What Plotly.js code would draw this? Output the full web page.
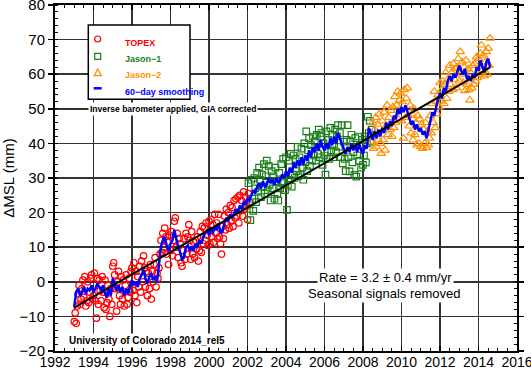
<!DOCTYPE html>
<html>
<head>
<meta charset="utf-8">
<script src="https://cdn.plot.ly/plotly-3.0.1.min.js"></script>
<style>html,body{margin:0;padding:0;background:#fff;}#chart{width:531px;height:370px;}</style>
</head>
<body>
<div id="chart"></div>
<script>
// ---------- data ----------
const topexYears = [
1993,1993.05,1993.1,1993.15,1993.2,1993.25,1993.3,1993.35,1993.4,1993.45,1993.5,1993.55,1993.6,1993.65,1993.7,1993.75,1993.8,1993.85,1993.9,1993.95,
1994,1994.05,1994.1,1994.15,1994.2,1994.25,1994.3,1994.35,1994.4,1994.45,1994.5,1994.55,1994.6,1994.65,1994.7,1994.75,1994.8,1994.85,1994.9,1994.95,
1995,1995.05,1995.1,1995.15,1995.2,1995.25,1995.3,1995.35,1995.4,1995.45,1995.5,1995.55,1995.6,1995.65,1995.7,1995.75,1995.8,1995.85,1995.9,1995.95,
1996,1996.05,1996.1,1996.15,1996.2,1996.25,1996.3,1996.35,1996.4,1996.45,1996.5,1996.55,1996.6,1996.65,1996.7,1996.75,1996.8,1996.85,1996.9,1996.95,
1997,1997.05,1997.1,1997.15,1997.2,1997.25,1997.3,1997.35,1997.4,1997.45,1997.5,1997.55,1997.6,1997.65,1997.7,1997.75,1997.8,1997.85,1997.9,1997.95,
1998,1998.05,1998.1,1998.15,1998.2,1998.25,1998.3,1998.35,1998.4,1998.45,1998.5,1998.55,1998.6,1998.65,1998.7,1998.75,1998.8,1998.85,1998.9,1998.95,
1999,1999.05,1999.1,1999.15,1999.2,1999.25,1999.3,1999.35,1999.4,1999.45,1999.5,1999.55,1999.6,1999.65,1999.7,1999.75,1999.8,1999.85,1999.9,1999.95,
2000,2000.05,2000.1,2000.15,2000.2,2000.25,2000.3,2000.35,2000.4,2000.45,2000.5,2000.55,2000.6,2000.65,2000.7,2000.75,2000.8,2000.85,2000.9,2000.95,
2001,2001.05,2001.1,2001.15,2001.2,2001.25,2001.3,2001.35,2001.4,2001.45,2001.5,2001.55,2001.6,2001.65,2001.7,2001.75,2001.8,2001.85,2001.9,2001.95,
2002,2002.05,2002.1];
const topexMSL = [
-11.5,-9.0,-12.0,-7.0,-3.5,-1.0,-6.5,-5.0,-2.0,0.5, -4.5,1.5,-7.0,-5.5,0.0,-6.0,-3.0,1.0,2.0,-5.0,
-4.0,2.5,-5.5,-10.5,1.0,-6.5,0.5,-2.5,-5.5,1.5, -3.0,-7.5,0.5,-8.0,-6.0,-1.0,-5.0,-10.0,-2.0,-6.5,
4.5,5.5,2.0,-2.0,-8.5,0.0,3.0,-4.0,-6.5,1.5, -5.0,0.5,-7.0,-1.0,2.0,-6.5,-4.5,1.0,-3.0,3.0,
4.0,-2.5,5.5,-4.0,3.0,-6.0,1.5,-1.5,4.5,-3.0, 6.0,0.0,7.5,4.0,-1.5,3.0,-4.0,2.5,-2.0,5.0,
-5.0,3.0,0.0,5.0,7.0,-1.5,2.5,1.0,4.0,8.0, 12.0,8.5,14.0,10.0,15.5,13.0,8.0,11.5,5.0,13.5,
9.0,14.5,7.5,12.0,17.5,18.5,10.0,14.0,7.0,12.5, 11.0,5.5,4.5,9.0,12.5,6.5,14.0,8.0,13.0,16.5,
12.0,6.5,14.5,8.0,11.5,7.0,12.0,9.5,13.0,6.0, 9.0,14.5,8.5,16.0,11.0,15.5,12.0,17.0,13.5,10.5,
17.5,11.0,18.0,13.0,16.5,11.5,19.5,14.0,17.0,12.5, 19.5,13.0,11.0,8.0,16.0,12.5,19.0,15.0,21.0,16.5,
20.0,15.5,22.0,17.5,21.5,16.0,23.5,18.5,24.0,19.0, 24.5,17.0,25.0,20.5,23.5,19.0,26.0,21.0,24.5,22.0,
18.0,25.5,23.0];

const jason1Years = [
2002.05,2002.1,2002.15,2002.2,2002.25,2002.3,2002.35,2002.4,2002.45,2002.5,2002.55,2002.6,2002.65,2002.7,2002.75,2002.8,2002.85,2002.9,2002.95,
2003,2003.05,2003.1,2003.15,2003.2,2003.25,2003.3,2003.35,2003.4,2003.45,2003.5,2003.55,2003.6,2003.65,2003.7,2003.75,2003.8,2003.85,2003.9,2003.95,
2004,2004.05,2004.1,2004.15,2004.2,2004.25,2004.3,2004.35,2004.4,2004.45,2004.5,2004.55,2004.6,2004.65,2004.7,2004.75,2004.8,2004.85,2004.9,2004.95,
2005,2005.05,2005.1,2005.15,2005.2,2005.25,2005.3,2005.35,2005.4,2005.45,2005.5,2005.55,2005.6,2005.65,2005.7,2005.75,2005.8,2005.85,2005.9,2005.95,
2006,2006.05,2006.1,2006.15,2006.2,2006.25,2006.3,2006.35,2006.4,2006.45,2006.5,2006.55,2006.6,2006.65,2006.7,2006.75,2006.8,2006.85,2006.9,2006.95,
2007,2007.05,2007.1,2007.15,2007.2,2007.25,2007.3,2007.35,2007.4,2007.45,2007.5,2007.55,2007.6,2007.65,2007.7,2007.75,2007.8,2007.85,2007.9,2007.95,
2008,2008.05,2008.1,2008.15,2008.2,2008.25,2008.3,2008.35,2008.4,2008.45];
const jason1MSL = [
28.5,21.0,17.8,29.5,24.0,20.5,30.0,27.0,23.0,31.5, 26.0,33.0,29.5,24.5,31.0,27.5,34.0,25.5,30.5,35.0,
26.5,33.5,28.0,23.5,32.0,27.0,30.5,24.0,33.0,29.0, 25.5,23.5,31.5,27.0,34.0,28.5,35.5,29.0,26.5,36.0,
20.8,28.0,35.0,29.5,37.0,27.5,31.0,36.5,30.0,35.5, 32.0,39.0,30.5,36.0,31.0,38.5,33.0,29.5,40.0,34.5,
43.5,32.0,38.0,41.5,33.5,39.5,35.0,42.0,36.5,40.5, 35.0,42.5,37.0,44.0,36.0,42.0,43.0,33.8,40.0,36.5,
31.0,43.5,37.5,41.0,35.5,44.5,38.0,42.5,36.0,39.5, 44.0,37.5,42.0,45.3,39.0,43.0,36.0,45.3,34.2,40.5,
35.5,32.0,41.0,45.3,36.0,31.9,40.5,42.5,34.5,37.5, 30.9,41.5,30.4,36.5,42.0,35.0,39.5,33.0,41.0,33.8,
36.5,42.0,34.5,40.0,47.7,43.0,46.5,40.5,44.0];

const jason2Years = [
2008.45,2008.5,2008.55,2008.6,2008.65,2008.7,2008.75,2008.8,2008.85,2008.9,2008.95,
2009,2009.05,2009.1,2009.15,2009.2,2009.25,2009.3,2009.35,2009.4,2009.45,2009.5,2009.55,2009.6,2009.65,2009.7,2009.75,2009.8,2009.85,2009.9,2009.95,
2010,2010.05,2010.1,2010.15,2010.2,2010.25,2010.3,2010.35,2010.4,2010.45,2010.5,2010.55,2010.6,2010.65,2010.7,2010.75,2010.8,2010.85,2010.9,2010.95,
2011,2011.05,2011.1,2011.15,2011.2,2011.25,2011.3,2011.35,2011.4,2011.45,2011.5,2011.55,2011.6,2011.65,2011.7,2011.75,2011.8,2011.85,2011.9,2011.95,
2012,2012.05,2012.1,2012.15,2012.2,2012.25,2012.3,2012.35,2012.4,2012.45,2012.5,2012.55,2012.6,2012.65,2012.7,2012.75,2012.8,2012.85,2012.9,2012.95,
2013,2013.05,2013.1,2013.15,2013.2,2013.25,2013.3,2013.35,2013.4,2013.45,2013.5,2013.55,2013.6,2013.65,2013.7,2013.75,2013.8,2013.85,2013.9,2013.95,
2014,2014.05,2014.1,2014.15,2014.2,2014.25,2014.3,2014.35,2014.4,2014.45,2014.5,2014.55,2014.6];
const jason2MSL = [
40.5,46.0,38.5,44.0,47.5,39.0,45.5,41.0,48.5,40.0, 37.1,46.5,41.0,49.0,38.0,45.0,51.0,42.5,47.5,44.0,
49.5,42.0,50.5,44.5,53.5,46.0,51.0,55.0,47.0,52.5, 54.5,46.5,52.0,41.5,55.5,47.5,53.0,56.0,48.0,45.0,
51.0,43.0,48.5,41.0,50.0,42.5,46.0,39.5,48.0,40.0, 47.0,39.0,45.5,38.5,44.0,40.0,46.0,38.8,43.5,39.5,
41.5,48.0,43.0,51.5,46.0,55.0,44.5,52.0,48.5,54.0, 50.5,57.5,52.0,55.5,58.0,51.5,57.0,60.5,53.0,58.5,
55.0,62.5,57.0,60.5,55.5,63.0,58.5,61.5,56.0,62.0, 64.5,58.0,66.5,60.0,63.5,57.5,62.0,55.2,64.0,57.0,
61.5,55.5,52.5,60.5,56.0,62.5,57.0,63.0,58.0,65.0, 59.0,64.5,60.0,66.0,68.4,61.0,65.5,59.5,63.5,66.5,
60.0,67.5,62.5,70.4];

const smoothYears = [
1993,1993.1,1993.2,1993.3,1993.4,1993.5,1993.6,1993.7,1993.8,1993.9,
1994,1994.1,1994.2,1994.3,1994.4,1994.5,1994.6,1994.7,1994.8,1994.9,
1995,1995.1,1995.2,1995.3,1995.4,1995.5,1995.6,1995.7,1995.8,1995.9,
1996,1996.1,1996.2,1996.3,1996.4,1996.5,1996.6,1996.7,1996.8,1996.9,
1997,1997.1,1997.2,1997.3,1997.4,1997.5,1997.6,1997.7,1997.8,1997.9,
1998,1998.1,1998.2,1998.3,1998.4,1998.5,1998.6,1998.7,1998.8,1998.9,
1999,1999.1,1999.2,1999.3,1999.4,1999.5,1999.6,1999.7,1999.8,1999.9,
2000,2000.1,2000.2,2000.3,2000.4,2000.5,2000.6,2000.7,2000.8,2000.9,
2001,2001.1,2001.2,2001.3,2001.4,2001.5,2001.6,2001.7,2001.8,2001.9,
2002,2002.1,2002.2,2002.3,2002.4,2002.5,2002.6,2002.7,2002.8,2002.9,
2003,2003.1,2003.2,2003.3,2003.4,2003.5,2003.6,2003.7,2003.8,2003.9,
2004,2004.1,2004.2,2004.3,2004.4,2004.5,2004.6,2004.7,2004.8,2004.9,
2005,2005.1,2005.2,2005.3,2005.4,2005.5,2005.6,2005.7,2005.8,2005.9,
2006,2006.1,2006.2,2006.3,2006.4,2006.5,2006.6,2006.7,2006.8,2006.9,
2007,2007.1,2007.2,2007.3,2007.4,2007.5,2007.6,2007.7,2007.8,2007.9,
2008,2008.1,2008.2,2008.3,2008.4,2008.5,2008.6,2008.7,2008.8,2008.9,
2009,2009.1,2009.2,2009.3,2009.4,2009.5,2009.6,2009.7,2009.8,2009.9,
2010,2010.1,2010.2,2010.3,2010.4,2010.5,2010.6,2010.7,2010.8,2010.9,
2011,2011.1,2011.2,2011.3,2011.4,2011.5,2011.6,2011.7,2011.8,2011.9,
2012,2012.1,2012.2,2012.3,2012.4,2012.5,2012.6,2012.7,2012.8,2012.9,
2013,2013.1,2013.2,2013.3,2013.4,2013.5,2013.6,2013.7,2013.8,2013.9,
2014,2014.1,2014.2,2014.3,2014.4,2014.5,2014.6];
const smoothMSL = [
-7.2,-3.0,-2.0,-4.0,-3.0,-1.5,-3.5,-2.0,-2.5,-1.0,
-3.0,-2.0,-0.5,-1.5,-2.5,-1.0,-3.5,-4.5,-2.0,-4.0,
1.0,-1.0,-2.5,-1.0,-3.0,-1.5,-4.0,-2.0,-3.5,-1.0,
0.5,-1.0,0.0,-1.5,1.0,2.0,3.5,1.0,-0.5,1.5,
2.5,0.5,1.5,0.0,5.0,10.0,12.0,13.0,10.5,9.0,
11.0,12.0,15.0,12.5,10.0,8.5,6.5,7.0,10.0,10.5,
9.0,10.0,9.0,11.0,10.0,12.0,11.0,13.0,14.0,15.0,
13.5,15.5,14.0,16.0,15.0,17.0,14.0,14.5,17.0,18.5,
17.5,19.5,18.5,20.0,21.0,20.0,22.0,21.0,23.0,22.5,
24.0,23.5,25.0,26.5,25.5,27.5,28.5,27.0,29.0,27.5,
28.0,30.0,28.5,29.5,28.0,30.0,28.5,29.5,31.0,30.0,
32.0,30.5,33.0,31.5,34.5,33.0,35.0,33.5,36.0,34.0,
36.5,35.0,38.0,36.0,39.0,37.5,40.0,38.0,41.0,39.0,
38.0,40.0,38.5,41.5,39.5,42.0,40.0,43.0,41.5,40.0,
38.0,37.0,39.0,37.5,40.0,38.0,39.5,37.5,40.0,38.0,
37.0,39.5,38.5,44.5,43.0,41.0,43.5,41.5,44.0,42.0,
44.5,43.0,46.0,44.0,46.5,45.0,48.0,47.0,50.0,48.5,
50.5,49.0,51.0,49.5,47.5,45.5,46.5,44.0,45.5,43.5,
44.5,42.5,43.5,41.5,44.0,46.0,49.0,48.0,51.0,53.0,
54.5,53.0,56.0,55.0,58.0,59.5,58.0,60.0,59.0,61.0,
62.5,61.0,60.0,61.5,58.5,59.5,58.0,60.0,59.0,62.0,
61.0,64.0,62.0,60.5,63.5,64.5,62.0];

const trendYears = [1993.0, 2014.6];
const trendMSL = [-7.5, 62.0];

const legendLabels = ["TOPEX", "Jason\u22121", "Jason\u22122", "60\u2212day smoothing"];
const noteText = "Inverse barometer applied, GIA corrected";
const rateText = "Rate = 3.2 \u00b1 0.4 mm/yr";
const seasonalText = "Seasonal signals removed";
const creditText = "University of Colorado 2014_rel5";

// ---------- styling ----------
const FONT = "Liberation Sans, Arial, Helvetica, sans-serif";
const RED = "#ff0000", GREEN = "#1a7f1a", ORANGE = "#ff9000", BLUE = "#0000ff";

const traces = [
  {x: topexYears, y: topexMSL, type: "scatter", mode: "markers", name: legendLabels[0],
   marker: {symbol: "circle-open", size: 6.5, color: RED, line: {width: 1.2, color: RED}}},
  {x: jason1Years, y: jason1MSL, type: "scatter", mode: "markers", name: legendLabels[1],
   marker: {symbol: "square-open", size: 6.5, color: GREEN, line: {width: 1.2, color: GREEN}}},
  {x: jason2Years, y: jason2MSL, type: "scatter", mode: "markers", name: legendLabels[2],
   marker: {symbol: "triangle-up-open", size: 7.5, color: ORANGE, line: {width: 1.2, color: ORANGE}}},
  {x: smoothYears, y: smoothMSL, type: "scatter", mode: "lines", name: legendLabels[3],
   line: {color: BLUE, width: 2.5}},
  {x: trendYears, y: trendMSL, type: "scatter", mode: "lines", name: "trend",
   line: {color: "#000", width: 2}}
];

function px2x(px){ return (px - 55) / 462; }
function px2y(py){ return (351 - py) / 346; }

const legX = px2x(97.7);
const shapes = [
  {type: "rect", xref: "paper", yref: "paper", x0: px2x(88.3), x1: px2x(190), y0: px2y(99.3), y1: px2y(25),
   line: {color: "#000", width: 1.5}, fillcolor: "#fff", layer: "above"},
  {type: "circle", xref: "paper", yref: "paper", xsizemode: "pixel", ysizemode: "pixel",
   xanchor: legX, yanchor: px2y(39), x0: -3, x1: 3, y0: -3, y1: 3, line: {color: RED, width: 1.2}},
  {type: "rect", xref: "paper", yref: "paper", xsizemode: "pixel", ysizemode: "pixel",
   xanchor: legX, yanchor: px2y(56.3), x0: -3, x1: 3, y0: -3, y1: 3, line: {color: GREEN, width: 1.2}},
  {type: "path", xref: "paper", yref: "paper", xsizemode: "pixel", ysizemode: "pixel",
   xanchor: legX, yanchor: px2y(72.7), path: "M-3.6,-3 L3.6,-3 L0,3.6 Z", line: {color: ORANGE, width: 1.2}},
  {type: "line", xref: "paper", yref: "paper", xsizemode: "pixel", ysizemode: "pixel",
   xanchor: legX, yanchor: px2y(88.3), x0: -4, x1: 4, y0: 0, y1: 0, line: {color: BLUE, width: 2.5}}
];

function ann(text, xp, yp, size, color, anchor, bg){
  return {text: text, xref: "paper", yref: "paper", x: xp, y: yp, showarrow: false,
    xanchor: anchor || "center", yanchor: "middle", font: {family: FONT, size: size, color: color || "#000"},
    bgcolor: bg || "rgba(0,0,0,0)", borderpad: 1};
}
const textX = px2x(122.7);
const annotations = [
  ann("<b>" + legendLabels[0] + "</b>", textX, px2y(42.7), 9, RED, "left"),
  ann("<b>" + legendLabels[1] + "</b>", textX, px2y(59.3), 9, GREEN, "left"),
  ann("<b>" + legendLabels[2] + "</b>", textX, px2y(75), 9, ORANGE, "left"),
  ann("<b>" + legendLabels[3] + "</b>", textX, px2y(91.7), 9, BLUE, "left"),
  ann("<b>" + noteText + "</b>", px2x(173), px2y(109.3), 8.5, "#000", "center", "#fff"),
  ann(rateText, px2x(385), px2y(277.7), 13, "#000", "center", "#fff"),
  ann(seasonalText, px2x(384), px2y(293.7), 13, "#000", "center", "#fff"),
  ann("<b>" + creditText + "</b>", px2x(147), px2y(340.7), 10, "#000", "center", "#fff")
];

const axisCommon = {
  showgrid: true, gridcolor: "#333", gridwidth: 1.6,
  showline: true, linecolor: "#000", linewidth: 2, mirror: "ticks",
  zeroline: false, ticklen: 5, tickwidth: 1.5, tickcolor: "#000",
  ticklabeloverflow: "allow",
  tickfont: {family: FONT, size: 15, color: "#000"}, fixedrange: true, automargin: false
};

const layout = {
  width: 531, height: 370,
  margin: {l: 55, r: 14, t: 5, b: 19, pad: 0},
  paper_bgcolor: "#fff", plot_bgcolor: "#fff",
  showlegend: false,
  font: {family: FONT, color: "#000"},
  xaxis: Object.assign({}, axisCommon, {
    range: [1992, 2016], tickmode: "linear", tick0: 1992, dtick: 2, ticks: "inside",
    ticklabelstandoff: -3,
    tickfont: {family: FONT, size: 14, color: "#000"},
    minor: {tick0: 1992, dtick: 0.5, ticks: "inside", ticklen: 3, tickwidth: 1, tickcolor: "#000", showgrid: false}
  }),
  yaxis: Object.assign({}, axisCommon, {
    range: [-20, 80], tickmode: "linear", tick0: -20, dtick: 10, ticks: "outside",
    minor: {tick0: -20, dtick: 2, ticks: "inside", ticklen: 3, tickwidth: 1, tickcolor: "#000", showgrid: false},
    title: {text: "\u0394MSL (mm)", font: {family: FONT, size: 15, color: "#000"}, standoff: 6}
  }),
  shapes: shapes,
  annotations: annotations
};

Plotly.newPlot("chart", traces, layout, {displayModeBar: false, staticPlot: true});
</script>
</body>
</html>
